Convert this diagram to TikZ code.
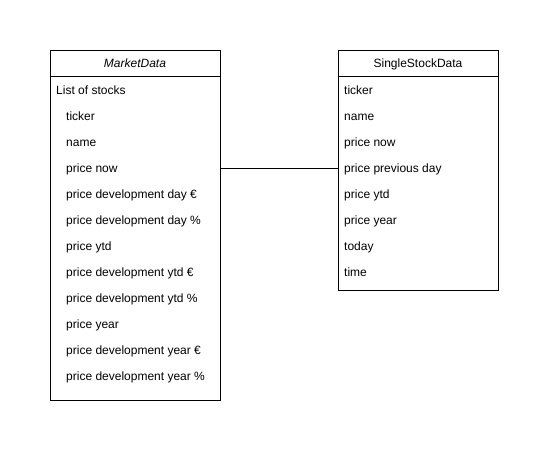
\documentclass[tikz,border=0pt]{standalone}
\usepackage{fontspec}
\setmainfont{Liberation Sans}

\tikzset{
  classbox/.style={draw, line width=1pt, fill=white, inner sep=0pt, anchor=north west},
  classtitle/.style={inner sep=0pt, font=\fontsize{12}{14}\selectfont, text height=8.6pt, text depth=0pt},
  field/.style={anchor=west, inner sep=0pt, font=\fontsize{12}{14}\selectfont, text height=8.6pt, text depth=0pt},
}

\begin{document}
\begin{tikzpicture}[x=1pt,y=-1pt]
\useasboundingbox (0,0) rectangle (549,451);
\node[classbox, minimum width=170pt, minimum height=350pt] (market) at (50,50) {};
\node[classbox, minimum width=160pt, minimum height=240pt] (single) at (338,50) {};
\draw[line width=1pt] (50,76) -- (220,76);
\draw[line width=1pt] (338,76) -- (498,76);
\node[classtitle] (mtitle) at (135,63) {\itshape MarketData};
\node[classtitle] (stitle) at (418,63) {SingleStockData};
% MarketData fields
\node[field] (mlist) at (56,90) {List of stocks};
\node[field] (mticker) at (66,116) {ticker};
\node[field] (mname) at (66,142) {name};
\node[field] (mnow) at (66,168) {price now};
\node[field] (mdaye) at (66,194) {price development day €};
\node[field] (mdayp) at (66,220) {price development day \%};
\node[field] (mytd) at (66,246) {price ytd};
\node[field] (mytde) at (66,272) {price development ytd €};
\node[field] (mytdp) at (66,298) {price development ytd \%};
\node[field] (myear) at (66,324) {price year};
\node[field] (myeare) at (66,350) {price development year €};
\node[field] (myearp) at (66,376) {price development year \%};
% SingleStockData fields
\node[field] (sticker) at (344,90) {ticker};
\node[field] (sname) at (344,116) {name};
\node[field] (snow) at (344,142) {price now};
\node[field] (sprev) at (344,168) {price previous day};
\node[field] (sytd) at (344,194) {price ytd};
\node[field] (syear) at (344,220) {price year};
\node[field] (stoday) at (344,246) {today};
\node[field] (stime) at (344,272) {time};
\draw[line width=1pt] (market.east |- mnow) -- (single.west |- sprev);
\end{tikzpicture}
\end{document}
